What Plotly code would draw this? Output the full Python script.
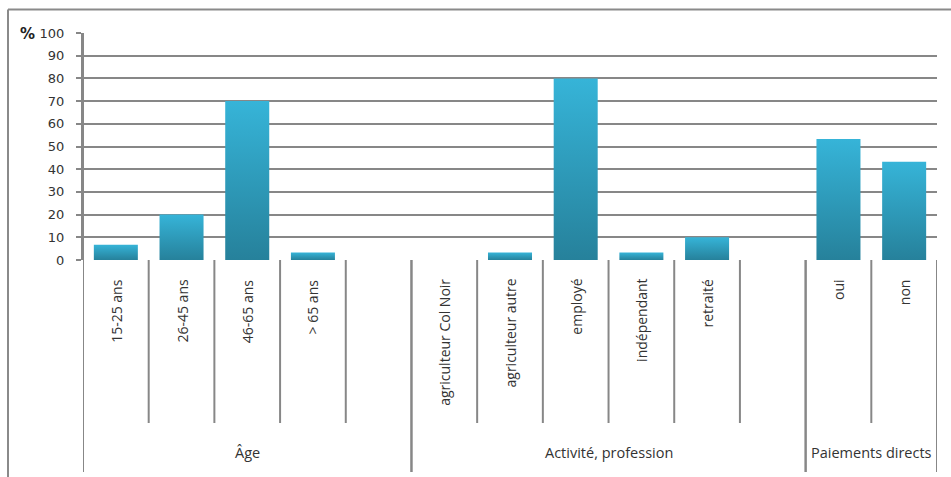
import plotly.graph_objects as go

# ---- data -------------------------------------------------------------
group_names = ["Âge", "Activité, profession", "Paiements directs"]

age_labels = ["15-25 ans", "26-45 ans", "46-65 ans", "> 65 ans"]
age_values = [6.7, 20, 70, 3.3]

activity_labels = ["agriculteur Col Noir", "agriculteur autre", "employé",
                   "indépendant", "retraité"]
activity_values = [0, 3.3, 80, 3.3, 10]

payment_labels = ["oui", "non"]
payment_values = [53.3, 43.3]

y_ticks = list(range(0, 101, 10))

# ---- layout constants (pixels) ---------------------------------------
W, H = 951, 477
M_L, M_R, M_T, M_B = 83, 14, 33, 217
PLOT_H = H - M_T - M_B
PLOT_W = W - M_L - M_R


def py(pix):
    """Pixel row -> paper y coordinate."""
    return (H - M_B - pix) / PLOT_H


def px(pix):
    """Pixel column -> paper x coordinate."""
    return (pix - M_L) / PLOT_W


GRID = "#878787"
TEXT = "#333333"
BAR_DARK = "#26819b"
BAR_LIGHT = "#36b4d8"
HALF_W = 0.335
LABEL_FONT = dict(family="Open Sans", size=14, color=TEXT)

# each group: name, labels, values, number of empty slots after it
groups = [
    (group_names[0], age_labels, age_values, 1),
    (group_names[1], activity_labels, activity_values, 1),
    (group_names[2], payment_labels, payment_values, 0),
]

fig = go.Figure()
shapes = []
annotations = []

pos = 0
for gname, labels, values, blanks in groups:
    start = pos
    for lab, val in zip(labels, values):
        x = pos
        fig.add_trace(go.Scatter(
            x=[x - HALF_W, x + HALF_W, x + HALF_W, x - HALF_W, x - HALF_W],
            y=[0, 0, val, val, 0],
            mode="lines", fill="toself",
            line=dict(width=0, color=BAR_DARK),
            fillgradient=dict(type="vertical",
                              colorscale=[[0, BAR_DARK], [1, BAR_LIGHT]]),
            hoverinfo="skip", showlegend=False,
        ))
        annotations.append(dict(
            x=x, y=py(277), xref="x", yref="paper",
            text=lab, textangle=-90, showarrow=False,
            xanchor="center", yanchor="top", font=LABEL_FONT,
        ))
        pos += 1
    pos += blanks
    end = pos
    # inner slot boundaries (short lines)
    for b in range(start + 1, end):
        shapes.append(dict(type="line", xref="x", yref="paper",
                           x0=b - 0.5, x1=b - 0.5, y0=0, y1=py(423),
                           line=dict(color=GRID, width=2)))
    # group edges (long lines)
    for b in (start, end):
        shapes.append(dict(type="line", xref="x", yref="paper",
                           x0=b - 0.5, x1=b - 0.5, y0=1 if b == 0 else 0,
                           y1=py(472),
                           line=dict(color=GRID, width=2)))
    annotations.append(dict(
        x=(start + end - 1) / 2, y=py(452), xref="x", yref="paper",
        text=gname, showarrow=False, xanchor="center", yanchor="middle",
        font=dict(family="Open Sans", size=14.5, color=TEXT),
    ))

n_slots = pos

# outer frame (top and left edges)
shapes.append(dict(type="line", xref="paper", yref="paper",
                   x0=px(8), x1=px(W), y0=py(9.5), y1=py(9.5),
                   line=dict(color="#8a8a8a", width=2)))
shapes.append(dict(type="line", xref="paper", yref="paper",
                   x0=px(8), x1=px(8), y0=py(9.5), y1=py(H),
                   line=dict(color="#8a8a8a", width=2)))

# unit label
annotations.append(dict(
    x=px(18), y=py(34), xref="paper", yref="paper", text="<b>%</b>",
    showarrow=False, xanchor="left", yanchor="middle",
    font=dict(family="DejaVu Sans", size=15, color="#222222"),
))

fig.update_layout(
    width=W, height=H,
    margin=dict(l=M_L, r=M_R, t=M_T, b=M_B, pad=0),
    paper_bgcolor="white", plot_bgcolor="white",
    shapes=shapes, annotations=annotations,
    xaxis=dict(range=[-0.5, n_slots - 0.5], showgrid=False, zeroline=False,
               showticklabels=False, ticks="", showline=False,
               fixedrange=True),
    yaxis=dict(range=[0, 100], tickvals=y_ticks, showgrid=True,
               gridcolor=GRID, gridwidth=1.6, zeroline=False,
               showline=True, linecolor=GRID, linewidth=2,
               ticks="outside", ticklen=5, tickcolor=GRID, tickwidth=1.6,
               ticklabelstandoff=9,
               tickfont=dict(family="DejaVu Sans", size=13, color=TEXT),
               fixedrange=True),
)

fig.write_html("out.html")
